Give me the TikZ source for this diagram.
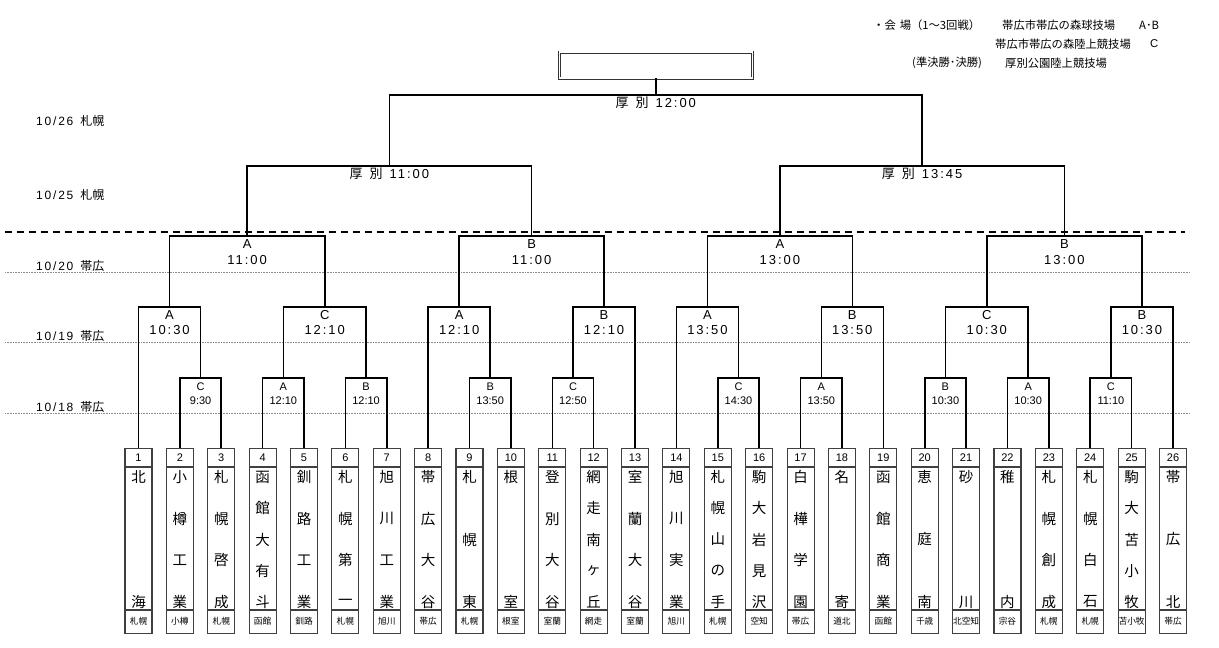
\documentclass[tikz,border=0pt]{standalone}
\usepackage{fontspec}
\setmainfont{Noto Sans CJK JP}
\newfontfamily\lat{Liberation Sans}
\newfontfamily\latsp[LetterSpace=15]{Liberation Sans}
\begin{document}
\begin{tikzpicture}[x=1pt,y=-1pt,
  br/.style={line width=1.6pt, black},
  tbox/.style={draw=black!75, line width=1.1pt, minimum width=27pt, minimum height=185pt, anchor=north, inner sep=0pt},
  boxline/.style={draw=black!75, line width=1.1pt},
  nch/.style={font=\fontsize{14.5}{14.5}\selectfont, inner sep=0pt},
  num/.style={font=\lat\fontsize{11}{11}\selectfont, inner sep=0pt},
  loc/.style={font=\fontsize{8.7}{9}\selectfont, inner sep=0pt},
  rone/.style={font=\lat\fontsize{11}{14}\selectfont, align=center, inner sep=0pt},
  rtwo/.style={font=\latsp\fontsize{13}{15.5}\selectfont, align=center, inner sep=0pt},
  hdr/.style={font=\fontsize{13}{13}\selectfont, inner sep=0pt},
  datel/.style={font=\fontsize{12}{12}\selectfont, anchor=west, inner sep=0pt},
  toptxt/.style={font=\fontsize{11.3}{12}\selectfont, anchor=west, inner sep=0pt},
  gline/.style={draw=black!45, line width=0.6pt, densely dotted},
  dline/.style={draw=black, line width=1.5pt, dash pattern=on 7pt off 5pt}
]
\fill[white] (0,0) rectangle (1219,648);
\useasboundingbox (0,0) rectangle (1219,648);

% grey day lines
\coordinate (g1a) at (5,272); \coordinate (g1b) at (1190,272);
\coordinate (g2a) at (5,342); \coordinate (g2b) at (1190,342);
\coordinate (g3a) at (5,413); \coordinate (g3b) at (1190,413);
\draw[gline] (g1a) -- (g1b);
\draw[gline] (g2a) -- (g2b);
\draw[gline] (g3a) -- (g3b);
% dashed separator
\coordinate (da) at (5,232); \coordinate (db) at (1185,232);
\draw[dline] (da) -- (db);

% date labels
\node[datel] (d26) at (36,121) {{\latsp 10/26}\hspace{7pt}札幌};
\node[datel] (d25) at (36,195) {{\latsp 10/25}\hspace{7pt}札幌};
\node[datel] (d20) at (36,266) {{\latsp 10/20}\hspace{7pt}帯広};
\node[datel] (d19) at (36,336) {{\latsp 10/19}\hspace{7pt}帯広};
\node[datel] (d18) at (36,407) {{\latsp 10/18}\hspace{7pt}帯広};

% venue text
\node[toptxt] (v1) at (873,25) {・会\hspace{4pt}場（1～3回戦）};
\node[toptxt] (v2) at (1002,25) {帯広市帯広の森球技場};
\node[toptxt] (v3) at (1139,25) {A･B};
\node[toptxt] (v4) at (995,44) {帯広市帯広の森陸上競技場};
\node[toptxt] (v5) at (1150,44) {\lat C};
\node[toptxt] (v6) at (912,63) {(準決勝･決勝)};
\node[toptxt] (v7) at (1005,63) {厚別公園陸上競技場};

% teams
\foreach \i/\n/\nm/\lc in {
  1/2/{北,海}/札幌, 2/4/{小,樽,工,業}/小樽, 3/4/{札,幌,啓,成}/札幌,
  4/5/{函,館,大,有,斗}/函館, 5/4/{釧,路,工,業}/釧路, 6/4/{札,幌,第,一}/札幌,
  7/4/{旭,川,工,業}/旭川, 8/4/{帯,広,大,谷}/帯広, 9/3/{札,幌,東}/札幌,
  10/2/{根,室}/根室, 11/4/{登,別,大,谷}/室蘭, 12/5/{網,走,南,ヶ,丘}/網走,
  13/4/{室,蘭,大,谷}/室蘭, 14/4/{旭,川,実,業}/旭川, 15/5/{札,幌,山,の,手}/札幌,
  16/5/{駒,大,岩,見,沢}/空知, 17/4/{白,樺,学,園}/帯広, 18/2/{名,寄}/道北,
  19/4/{函,館,商,業}/函館, 20/3/{恵,庭,南}/千歳, 21/2/{砂,川}/北空知,
  22/2/{稚,内}/宗谷, 23/4/{札,幌,創,成}/札幌, 24/4/{札,幌,白,石}/札幌,
  25/5/{駒,大,苫,小,牧}/苫小牧, 26/3/{帯,広,北}/帯広}{
  \pgfmathsetmacro\cx{138.5+(\i-1)*41.38}
  \node[tbox] (t\i) at (\cx,448) {};
  \draw[boxline] (\cx-13.5,467) -- (\cx+13.5,467);
  \draw[boxline] (\cx-13.5,610) -- (\cx+13.5,610);
  \node[num] (n\i) at (\cx,457.5) {\i};
  \node[loc] (p\i) at (\cx,621.5) {\lc};
  \foreach \ch [count=\k] in \nm {
    \node[nch] (t\i c\k) at (\cx,{477+(\k-1)*125/(\n-1)}) {\ch};
  }
}

% round 1 (y=378)
\coordinate (m23) at (200.6,378);
\coordinate (m45) at (283.3,378);
\coordinate (m67) at (366.1,378);
\coordinate (m910) at (490.2,378);
\coordinate (m1112) at (573.0,378);
\coordinate (m1516) at (738.5,378);
\coordinate (m1718) at (821.3,378);
\coordinate (m2021) at (945.4,378);
\coordinate (m2223) at (1028.2,378);
\coordinate (m2425) at (1110.9,378);
\draw[br] (t2.north) |- (m23) -| (t3.north);
\draw[br] (t4.north) |- (m45) -| (t5.north);
\draw[br] (t6.north) |- (m67) -| (t7.north);
\draw[br] (t9.north) |- (m910) -| (t10.north);
\draw[br] (t11.north) |- (m1112) -| (t12.north);
\draw[br] (t15.north) |- (m1516) -| (t16.north);
\draw[br] (t17.north) |- (m1718) -| (t18.north);
\draw[br] (t20.north) |- (m2021) -| (t21.north);
\draw[br] (t22.north) |- (m2223) -| (t23.north);
\draw[br] (t24.north) |- (m2425) -| (t25.north);
\node[rone] (lm23) at (200.6,394) {C\\9:30};
\node[rone] (lm45) at (283.3,394) {A\\12:10};
\node[rone] (lm67) at (366.1,394) {B\\12:10};
\node[rone] (lm910) at (490.2,394) {B\\13:50};
\node[rone] (lm1112) at (573.0,394) {C\\12:50};
\node[rone] (lm1516) at (738.5,394) {C\\14:30};
\node[rone] (lm1718) at (821.3,394) {A\\13:50};
\node[rone] (lm2021) at (945.4,394) {B\\10:30};
\node[rone] (lm2223) at (1028.2,394) {A\\10:30};
\node[rone] (lm2425) at (1110.9,394) {C\\11:10};

% round 2 (y=307)
\coordinate (q1) at (169.55,307);
\coordinate (q2) at (324.7,307);
\coordinate (q3) at (459.2,307);
\coordinate (q4) at (604.05,307);
\coordinate (q5) at (707.45,307);
\coordinate (q6) at (852.3,307);
\coordinate (q7) at (986.8,307);
\coordinate (q8) at (1141.95,307);
\draw[br] (t1.north) |- (q1) -| (m23);
\draw[br] (m45) |- (q2) -| (m67);
\draw[br] (t8.north) |- (q3) -| (m910);
\draw[br] (m1112) |- (q4) -| (t13.north);
\draw[br] (t14.north) |- (q5) -| (m1516);
\draw[br] (m1718) |- (q6) -| (t19.north);
\draw[br] (m2021) |- (q7) -| (m2223);
\draw[br] (m2425) |- (q8) -| (t26.north);
\node[rtwo] (lq1) at (169.55,322.5) {A\\10:30};
\node[rtwo] (lq2) at (324.7,322.5) {C\\12:10};
\node[rtwo] (lq3) at (459.2,322.5) {A\\12:10};
\node[rtwo] (lq4) at (604.05,322.5) {B\\12:10};
\node[rtwo] (lq5) at (707.45,322.5) {A\\13:50};
\node[rtwo] (lq6) at (852.3,322.5) {B\\13:50};
\node[rtwo] (lq7) at (986.8,322.5) {C\\10:30};
\node[rtwo] (lq8) at (1141.95,322.5) {B\\10:30};

% round 3 (y=236)
\coordinate (s1) at (247.1,236);
\coordinate (s2) at (531.6,236);
\coordinate (s3) at (779.9,236);
\coordinate (s4) at (1064.4,236);
\draw[br] (q1) |- (s1) -| (q2);
\draw[br] (q3) |- (s2) -| (q4);
\draw[br] (q5) |- (s3) -| (q6);
\draw[br] (q7) |- (s4) -| (q8);
\node[rtwo] (ls1) at (247.1,252) {A\\11:00};
\node[rtwo] (ls2) at (531.6,252) {B\\11:00};
\node[rtwo] (ls3) at (779.9,252) {A\\13:00};
\node[rtwo] (ls4) at (1064.4,252) {B\\13:00};

% semifinals (y=166)
\coordinate (h1) at (389.4,166);
\coordinate (h2) at (922.1,166);
\draw[br] (s1) |- (h1) -| (s2);
\draw[br] (s3) |- (h2) -| (s4);
\node[hdr] (lh1) at (389.4,174) {厚\hspace{7pt}別\hspace{7pt}{\latsp 11:00}};
\node[hdr] (lh2) at (922.1,174) {厚\hspace{7pt}別\hspace{7pt}{\latsp 13:45}};

% final (y=95)
\coordinate (fin) at (655.8,95);
\draw[br] (h1) |- (fin) -| (h2);
\node[hdr] (lfin) at (655.8,103) {厚\hspace{7pt}別\hspace{7pt}{\latsp 12:00}};
\node[draw=black!80, line width=0.7pt, double, double distance=1.6pt, minimum width=193pt, minimum height=26pt, inner sep=0pt] (win) at (655.8,65) {};
\draw[br] (fin) -- (win.south);
\end{tikzpicture}
\end{document}
